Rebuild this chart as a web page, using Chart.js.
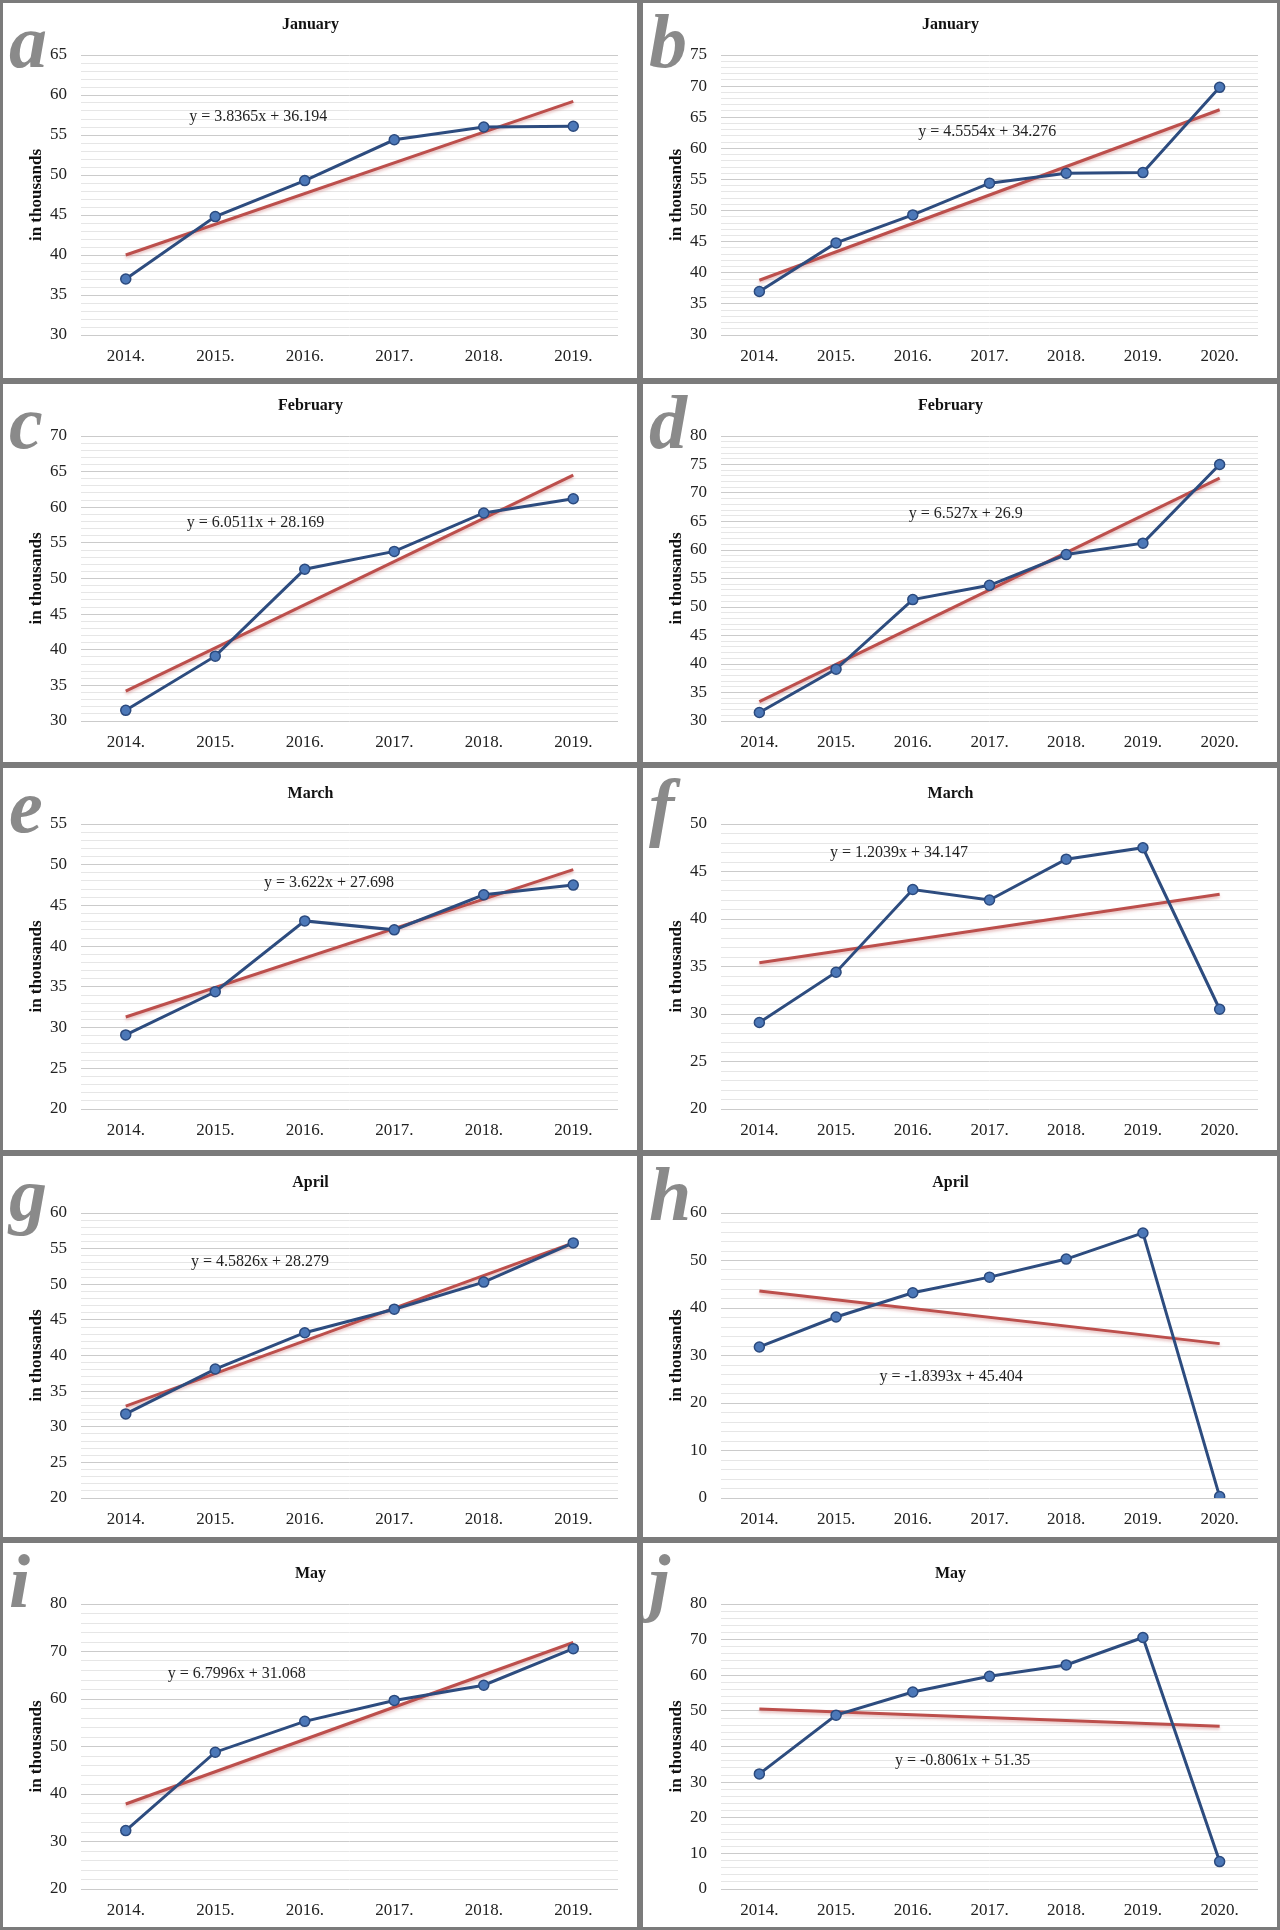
<!DOCTYPE html>
<html>
<head>
<meta charset="utf-8">
<script src="https://cdn.jsdelivr.net/npm/chart.js@4"></script>
<style>
  body { margin: 0; background: #fff; }
  #grid { display: grid; grid-template-columns: 640px 640px; grid-template-rows: 381px 384px 388px 387px 390px; width: 1280px; height: 1930px; }
  .panel { position: relative; border: 3px solid #7b7b7b; background: #fff; overflow: hidden; }
  .panel canvas { position: absolute; left: 0; top: 0; }
  .letter { position: absolute; left: 6px; top: 0; font: italic bold 76px/76px "Liberation Serif", serif; color: #8a8a8a; }
</style>
</head>
<body>
<div id="grid"></div>
<script>
var years6 = ["2014.", "2015.", "2016.", "2017.", "2018.", "2019."];
var years7 = ["2014.", "2015.", "2016.", "2017.", "2018.", "2019.", "2020."];

// values in thousands, 2014..2020
var january = [37.0, 44.8, 49.3, 54.4, 56.0, 56.1, 69.8];
var february = [31.5, 39.1, 51.3, 53.8, 59.2, 61.2, 75.0];
var march = [29.1, 34.4, 43.1, 42.0, 46.3, 47.5, 30.5];
var april = [31.8, 38.1, 43.2, 46.5, 50.3, 55.8, 0.3];
var may = [32.3, 48.8, 55.3, 59.7, 62.9, 70.6, 7.7];

// trend line ends (first year, last year)
var trendA = [40.0, 59.2];
var trendB = [38.8, 66.2];
var trendC = [34.2, 64.5];
var trendD = [33.4, 72.6];
var trendE = [31.3, 49.4];
var trendF = [35.4, 42.6];
var trendG = [32.9, 55.8];
var trendH = [43.6, 32.5];
var trendI = [37.9, 71.9];
var trendJ = [50.5, 45.7];

var serif = "'Liberation Serif', 'Times New Roman', serif";

// each row of the figure sits a little differently
var rowHeights = [381, 384, 388, 387, 390];
var rowShift = [0, 0, 4, 5, 9];
var plotBottoms = [335, 340, 344, 345, 349];

var panels = [
  { id: "a", title: "January", labels: years6, values: january.slice(0, 6), trend: trendA, eq: "y = 3.8365x + 36.194", eqAt: [1.48, 57.3], yMin: 30, yMax: 65, yStep: 5 },
  { id: "b", title: "January", labels: years7, values: january, trend: trendB, eq: "y = 4.5554x + 34.276", eqAt: [2.97, 62.6], yMin: 30, yMax: 75, yStep: 5 },
  { id: "c", title: "February", labels: years6, values: february.slice(0, 6), trend: trendC, eq: "y = 6.0511x + 28.169", eqAt: [1.45, 57.8], yMin: 30, yMax: 70, yStep: 5 },
  { id: "d", title: "February", labels: years7, values: february, trend: trendD, eq: "y = 6.527x + 26.9", eqAt: [2.69, 66.4], yMin: 30, yMax: 80, yStep: 5 },
  { id: "e", title: "March", labels: years6, values: march.slice(0, 6), trend: trendE, eq: "y = 3.622x + 27.698", eqAt: [2.27, 47.8], yMin: 20, yMax: 55, yStep: 5 },
  { id: "f", title: "March", labels: years7, values: march, trend: trendF, eq: "y = 1.2039x + 34.147", eqAt: [1.82, 47.0], yMin: 20, yMax: 50, yStep: 5 },
  { id: "g", title: "April", labels: years6, values: april.slice(0, 6), trend: trendG, eq: "y = 4.5826x + 28.279", eqAt: [1.5, 53.1], yMin: 20, yMax: 60, yStep: 5 },
  { id: "h", title: "April", labels: years7, values: april, trend: trendH, eq: "y = -1.8393x + 45.404", eqAt: [2.5, 25.5], yMin: 0, yMax: 60, yStep: 10 },
  { id: "i", title: "May", labels: years6, values: may.slice(0, 6), trend: trendI, eq: "y = 6.7996x + 31.068", eqAt: [1.24, 65.3], yMin: 20, yMax: 80, yStep: 10 },
  { id: "j", title: "May", labels: years7, values: may, trend: trendJ, eq: "y = -0.8061x + 51.35", eqAt: [2.65, 35.9], yMin: 0, yMax: 80, yStep: 10 }
];

// writes the trendline equation at a spot given in chart values
var equationLabel = {
  id: "equationLabel",
  afterDatasetsDraw: function (chart, args, opts) {
    var ctx = chart.ctx;
    var x = chart.scales.x.getPixelForValue(opts.at[0]);
    var y = chart.scales.y.getPixelForValue(opts.at[1]);
    ctx.save();
    ctx.font = "16px " + serif;
    ctx.fillStyle = "#1f1f1f";
    ctx.textAlign = "center";
    ctx.textBaseline = "middle";
    ctx.fillText(opts.text, x, y);
    ctx.restore();
  }
};

// soft pink glow under the red trendline, like the Excel original
var trendGlow = {
  id: "trendGlow",
  beforeDatasetDraw: function (chart, args) {
    if (args.index !== 1) return;
    var ctx = chart.ctx;
    ctx.save();
    ctx.shadowColor = "rgba(200, 110, 110, 0.45)";
    ctx.shadowBlur = 3;
    ctx.shadowOffsetY = 2;
  },
  afterDatasetDraw: function (chart, args) {
    if (args.index !== 1) return;
    chart.ctx.restore();
  }
};

var grid = document.getElementById("grid");

panels.forEach(function (p, n) {
  var row = Math.floor(n / 2);
  var canvasH = rowHeights[row] - 6;
  var shift = rowShift[row];
  var xAxisH = canvasH - (plotBottoms[row] - 3);

  var box = document.createElement("div");
  box.className = "panel";
  var cv = document.createElement("canvas");
  cv.width = 634;
  cv.height = canvasH;
  box.appendChild(cv);
  var letter = document.createElement("span");
  letter.className = "letter";
  letter.textContent = p.id;
  box.appendChild(letter);
  grid.appendChild(box);

  var last = p.labels.length - 1;
  var trendData = p.labels.map(function (l, i) {
    if (i === 0) return p.trend[0];
    if (i === last) return p.trend[1];
    return null;
  });

  new Chart(cv.getContext("2d"), {
    type: "line",
    data: {
      labels: p.labels,
      datasets: [
        {
          data: p.values,
          borderColor: "#2d4c7f",
          borderWidth: 3,
          pointRadius: 5,
          pointBackgroundColor: "#4c78b8",
          pointBorderColor: "#2b4a7e",
          pointBorderWidth: 1.5,
          tension: 0,
          order: 0
        },
        {
          data: trendData,
          borderColor: "#bc4f4c",
          borderWidth: 3,
          pointRadius: 0,
          spanGaps: true,
          order: 1
        }
      ]
    },
    options: {
      responsive: false,
      animation: false,
      layout: { padding: { left: 0, right: 19, top: shift, bottom: 0 } },
      plugins: {
        legend: { display: false },
        tooltip: { enabled: false },
        title: {
          display: true,
          text: p.title,
          color: "#111",
          font: { family: serif, size: 16, weight: "bold", lineHeight: 1.25 },
          padding: { top: 12, bottom: 20 }
        },
        equationLabel: { text: p.eq, at: p.eqAt }
      },
      scales: {
        x: {
          offset: true,
          grid: { display: false, drawTicks: false },
          border: { display: false },
          ticks: { color: "#222", font: { family: serif, size: 17 }, padding: 11, maxRotation: 0, autoSkip: false },
          afterFit: function (s) { s.height = xAxisH; }
        },
        y: {
          min: p.yMin,
          max: p.yMax,
          border: { display: false },
          grid: {
            drawTicks: false,
            color: function (c) {
              return Math.abs(c.tick.value % p.yStep) < 1e-6 ? "#cbcbcb" : "#e6e6e6";
            }
          },
          ticks: {
            stepSize: p.yStep / 5,
            autoSkip: false,
            padding: 14,
            color: "#222",
            font: { family: serif, size: 17 },
            // minor steps keep their grid line but carry no label
            callback: function (v) { return Math.abs(v % p.yStep) < 1e-6 ? v : ""; }
          },
          title: {
            display: true,
            text: "in thousands",
            color: "#111",
            font: { family: serif, size: 17, weight: "bold" },
            padding: { top: 23 }
          },
          afterFit: function (s) { s.width = 78; }
        }
      }
    },
    plugins: [equationLabel, trendGlow]
  });
});
</script>
</body>
</html>
